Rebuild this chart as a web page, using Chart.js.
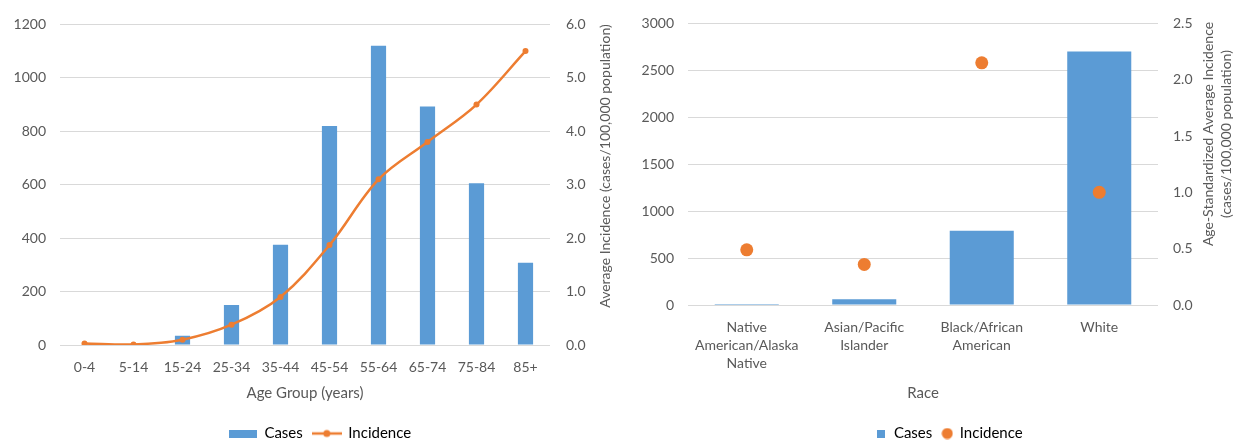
<!DOCTYPE html>
<html>
<head>
<meta charset="utf-8">
<script src="https://cdn.jsdelivr.net/npm/chart.js@4.4.1/dist/chart.umd.min.js"></script>
<style>
  html, body { margin: 0; padding: 0; background: #ffffff; }
  body { width: 1244px; height: 443px; overflow: hidden; position: relative; }
  canvas { position: absolute; top: 0; }
  #ageChart { left: 0; }
  #raceChart { left: 620px; }
</style>
</head>
<body>
<canvas id="ageChart" width="640" height="451"></canvas>
<canvas id="raceChart" width="659" height="451"></canvas>
<script>
// ---- Cases and incidence by age group ----
const ageGroups = ['0-4', '5-14', '15-24', '25-34', '35-44', '45-54', '55-64', '65-74', '75-84', '85+'];
const ageCases = [0, 0, 35, 150, 375, 820, 1120, 893, 605, 308];
const ageIncidence = [0.03, 0.01, 0.1, 0.38, 0.9, 1.87, 3.1, 3.8, 4.5, 5.5];

// ---- Cases and age-standardized incidence by race ----
const races = [
  ['Native', 'American/Alaska', 'Native'],
  ['Asian/Pacific', 'Islander'],
  ['Black/African', 'American'],
  ['White']
];
const raceCases = [10, 60, 790, 2700];
const raceIncidence = [0.49, 0.36, 2.15, 1.0];

const BLUE = '#5B9BD5';
const ORANGE = '#ED7D31';
const TEXT = '#595959';
const GRID = '#D9D9D9';
const FONT = 'Lato, "Open Sans", sans-serif';

// Legend swatches drawn onto small canvases
function swatch(w, h, draw) {
  const c = document.createElement('canvas');
  c.width = w; c.height = h;
  draw(c.getContext('2d'), w, h);
  return c;
}
const barSwatchWide = swatch(28, 8, (g, w, h) => { g.fillStyle = BLUE; g.fillRect(0, 0, w, h); });
const lineSwatch = swatch(30, 10, (g, w, h) => {
  g.strokeStyle = ORANGE; g.lineWidth = 2.5;
  g.beginPath(); g.moveTo(0, h / 2); g.lineTo(w, h / 2); g.stroke();
  g.fillStyle = ORANGE; g.beginPath(); g.arc(w / 2, h / 2, 3.5, 0, Math.PI * 2); g.fill();
});
const barSwatchSquare = swatch(8, 8, (g, w, h) => { g.fillStyle = BLUE; g.fillRect(0, 0, w, h); });
const dotSwatch = swatch(12, 12, (g, w, h) => {
  g.fillStyle = ORANGE; g.beginPath(); g.arc(w / 2, h / 2, 5.5, 0, Math.PI * 2); g.fill();
});

// Rotated side title, reading bottom-to-top, placed right of the secondary axis
const sideTitle = {
  id: 'sideTitle',
  afterDraw(chart, args, opts) {
    const s = chart.scales.y1;
    const ctx = chart.ctx;
    ctx.save();
    ctx.fillStyle = TEXT;
    ctx.font = opts.size + 'px ' + FONT;
    ctx.textAlign = 'center';
    ctx.textBaseline = 'middle';
    opts.lines.forEach((t, i) => {
      ctx.save();
      ctx.translate(s.left + opts.offsets[i], opts.centerY);
      ctx.rotate(-Math.PI / 2);
      ctx.fillText(t, 0, 0);
      ctx.restore();
    });
    ctx.restore();
  }
};

function legendOpts(items, styleWidth) {
  return {
    position: 'bottom',
    labels: {
      usePointStyle: true,
      pointStyleWidth: styleWidth,
      boxHeight: 8,
      padding: 10,
      color: TEXT,
      font: { family: FONT, size: 15 },
      generateLabels: () => items.map(it => ({
        text: it.text, pointStyle: it.img, fillStyle: 'transparent',
        strokeStyle: 'transparent', lineWidth: 0, hidden: false, datasetIndex: it.i
      }))
    }
  };
}

const tickFont = { family: FONT, size: 14 };
const titleFont = { family: FONT, size: 15 };
const plainNumber = v => String(v);

new Chart(document.getElementById('ageChart'), {
  type: 'bar',
  data: {
    labels: ageGroups,
    datasets: [
      {
        type: 'line', label: 'Incidence', data: ageIncidence, yAxisID: 'y1', order: 0,
        borderColor: ORANGE, backgroundColor: ORANGE, borderWidth: 2.5, tension: 0.35,
        pointRadius: 3, pointHoverRadius: 3, pointBackgroundColor: ORANGE, pointBorderWidth: 0
      },
      {
        type: 'bar', label: 'Cases', data: ageCases, yAxisID: 'y', order: 1,
        backgroundColor: BLUE, categoryPercentage: 1, barPercentage: 0.31
      }
    ]
  },
  options: {
    responsive: false,
    animation: false,
    layout: { padding: { top: 18, left: 0, right: 0, bottom: 0 } },
    plugins: {
      legend: legendOpts([{ text: 'Cases', img: barSwatchWide, i: 1 }, { text: 'Incidence', img: lineSwatch, i: 0 }], 28),
      tooltip: { enabled: false },
      sideTitle: { lines: ['Average Incidence (cases/100,000 population)'], offsets: [55], centerY: 166, size: 14 }
    },
    scales: {
      x: {
        grid: { display: false, drawTicks: false },
        border: { display: false },
        ticks: { color: TEXT, font: { ...tickFont, lineHeight: 1.2 }, padding: 14, maxRotation: 0, autoSkip: false },
        title: { display: true, text: 'Age Group (years)', color: TEXT, font: titleFont, padding: { top: 0, bottom: 14 } },
        afterFit(s) { s.height = 71; }
      },
      y: {
        position: 'left', min: 0, max: 1200,
        grid: { color: GRID, lineWidth: 1, drawTicks: false },
        border: { display: false },
        ticks: { stepSize: 200, color: TEXT, font: tickFont, padding: 14, callback: plainNumber },
        afterFit(s) { s.width = 60; }
      },
      y1: {
        position: 'right', min: 0, max: 6,
        grid: { display: false, drawTicks: false },
        border: { display: false },
        ticks: { stepSize: 1, color: TEXT, font: tickFont, padding: 16, callback: v => v.toFixed(1) },
        afterFit(s) { s.width = 90; }
      }
    }
  },
  plugins: [sideTitle]
});

new Chart(document.getElementById('raceChart'), {
  type: 'bar',
  data: {
    labels: races,
    datasets: [
      {
        type: 'line', label: 'Incidence', data: raceIncidence, yAxisID: 'y1', order: 0,
        showLine: false, backgroundColor: ORANGE, borderColor: ORANGE,
        pointRadius: 6.5, pointHoverRadius: 6.5, pointBorderWidth: 0
      },
      {
        type: 'bar', label: 'Cases', data: raceCases, yAxisID: 'y', order: 1,
        backgroundColor: BLUE, categoryPercentage: 1, barPercentage: 0.545
      }
    ]
  },
  options: {
    responsive: false,
    animation: false,
    layout: { padding: { top: 18, left: 0, right: 0, bottom: 0 } },
    plugins: {
      legend: legendOpts([{ text: 'Cases', img: barSwatchSquare, i: 1 }, { text: 'Incidence', img: dotSwatch, i: 0 }], 10),
      tooltip: { enabled: false },
      sideTitle: {
        lines: ['Age-Standardized Average Incidence', '(cases/100,000 population)'],
        offsets: [50, 68], centerY: 134, size: 14
      }
    },
    scales: {
      x: {
        grid: { display: false, drawTicks: false },
        border: { display: false },
        ticks: { color: TEXT, font: { ...tickFont, lineHeight: 1.3 }, padding: 13, maxRotation: 0, autoSkip: false },
        title: { display: true, text: 'Race', color: TEXT, font: titleFont, padding: { top: 0, bottom: 14 } },
        afterFit(s) { s.height = 111; }
      },
      y: {
        position: 'left', min: 0, max: 3000,
        grid: { color: GRID, lineWidth: 1, drawTicks: false },
        border: { display: false },
        ticks: { stepSize: 500, color: TEXT, font: tickFont, padding: 14, callback: plainNumber },
        afterFit(s) { s.width = 68; }
      },
      y1: {
        position: 'right', min: 0, max: 2.5,
        grid: { display: false, drawTicks: false },
        border: { display: false },
        ticks: { stepSize: 0.5, color: TEXT, font: tickFont, padding: 15, callback: v => v.toFixed(1) },
        afterFit(s) { s.width = 121; }
      }
    }
  },
  plugins: [sideTitle]
});
</script>
</body>
</html>
